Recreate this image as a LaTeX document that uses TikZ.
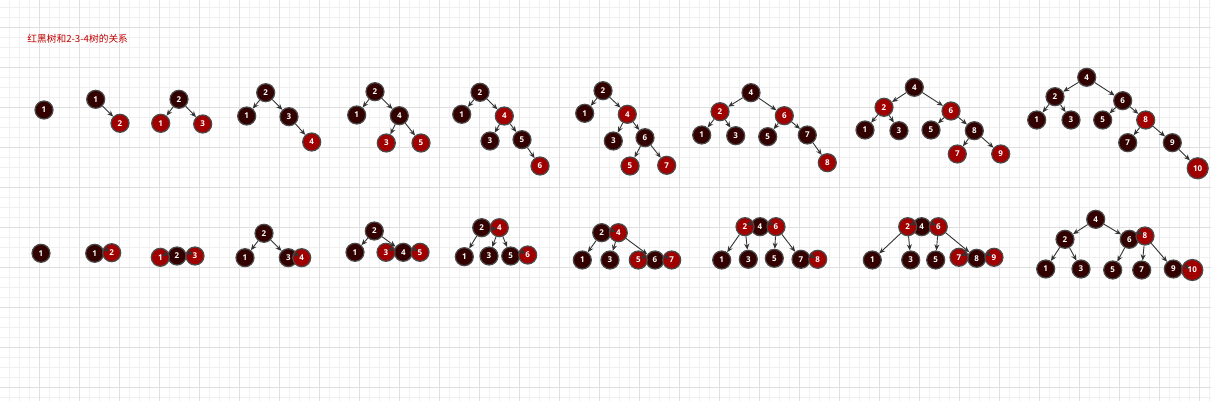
\documentclass[tikz,border=0pt]{standalone}
\usepackage{fontspec}
\setsansfont{Open Sans}
\newfontfamily\cjk{Noto Sans CJK SC}
\usetikzlibrary{arrows.meta, calc}
\definecolor{blkfill}{HTML}{330000}
\definecolor{redfill}{HTML}{A00000}
\definecolor{ringcol}{HTML}{4A4A4A}
\definecolor{arrcol}{HTML}{333333}
\definecolor{titlered}{HTML}{C00000}
\definecolor{gridminor}{HTML}{F0F0F0}
\definecolor{gridmajor}{HTML}{E0E0E0}

\begin{document}
\begin{tikzpicture}[x=1pt, y=-1pt, >={Stealth[length=6pt,width=5pt]}, ->, line width=0.9pt, draw=arrcol]
\tikzstyle{gridline}=[-, line width=1pt]
\tikzstyle{blk}=[circle, draw=ringcol, line width=1.2pt, fill=blkfill, text=white, minimum size=18pt, inner sep=0pt, font=\sffamily\bfseries\fontsize{8}{8}\selectfont]
\tikzstyle{rd}=[blk, fill=redfill]
\tikzstyle{big}=[minimum size=21pt]
\tikzset{tipin/.style={path picture={\draw[-{Stealth[length=5.5pt,width=5pt]}, arrcol, line width=0.9pt]
  ($(path picture bounding box.center)+(#1:10pt)$) -- ($(path picture bounding box.center)+(#1:2.5pt)$);}}}

\useasboundingbox (0,0) rectangle (1211,401);
\fill[white] (0,0) rectangle (1211,401);
\foreach \x in {9.5,19.5,...,1209.5} \draw[gridline, gridminor] (\x,0) -- (\x,401);
\foreach \y in {7.5,17.5,...,397.5} \draw[gridline, gridminor] (0,\y) -- (1211,\y);
\foreach \x in {39.5,79.5,...,1199.5} \draw[gridline, gridmajor] (\x,0) -- (\x,401);
\foreach \y in {27.5,67.5,...,387.5} \draw[gridline, gridmajor] (0,\y) -- (1211,\y);

\node[anchor=west, inner sep=0pt, text=titlered, font=\cjk\fontsize{9.7}{10}\selectfont] (title) at (27,38.5) {红黑树和2-3-4树的关系};

% red-black trees
\node[blk]   (T1-1) at (44,110)      {1};

\node[blk]   (T2-1) at (95.7,99.3)   {1};
\node[rd]    (T2-2) at (120,123.3)   {2};

\node[blk]   (T3-2) at (179,99.3)    {2};
\node[rd]    (T3-1) at (160.7,123.3) {1};
\node[rd]    (T3-3) at (202.7,124)   {3};

\node[blk]   (T4-2) at (265.7,92.7)  {2};
\node[blk]   (T4-1) at (246.7,116)   {1};
\node[blk]   (T4-3) at (289,116.7)   {3};
\node[rd]    (T4-4) at (311.7,142)   {4};

\node[blk]   (T5-2) at (375,91.7)    {2};
\node[blk]   (T5-1) at (356.7,115)   {1};
\node[blk]   (T5-4) at (399.3,115.7) {4};
\node[rd]    (T5-3) at (386.3,143)   {3};
\node[rd]    (T5-5) at (421,143)     {5};

\node[blk]   (T6-2) at (480,92.3)    {2};
\node[blk]   (T6-1) at (461.7,114.3) {1};
\node[rd]    (T6-4) at (504.3,116)   {4};
\node[blk]   (T6-3) at (490,141)     {3};
\node[blk]   (T6-5) at (522,139.7)   {5};
\node[rd]    (T6-6) at (540,166)     {6};

\node[blk]   (T7-2) at (603,90.7)    {2};
\node[blk]   (T7-1) at (584.7,113.3) {1};
\node[rd]    (T7-4) at (627.3,114.3) {4};
\node[blk]   (T7-3) at (613.3,141)   {3};
\node[blk]   (T7-6) at (645,137.7)   {6};
\node[rd]    (T7-5) at (630,166)     {5};
\node[rd]    (T7-7) at (666.7,165.3) {7};

\node[blk]   (T8-4) at (751,92.7)    {4};
\node[rd]    (T8-2) at (720,111.7)   {2};
\node[rd]    (T8-6) at (784.3,115.7) {6};
\node[blk]   (T8-1) at (701.7,135)   {1};
\node[blk]   (T8-3) at (735.7,135.7) {3};
\node[blk]   (T8-5) at (767.7,136.7) {5};
\node[blk]   (T8-7) at (807.3,135)   {7};
\node[rd]    (T8-8) at (827.3,162.7) {8};

\node[blk]   (T9-4) at (914.3,87.3)  {4};
\node[rd]    (T9-2) at (884,107.3)   {2};
\node[rd]    (T9-6) at (951,111)     {6};
\node[blk]   (T9-1) at (865,130)     {1};
\node[blk]   (T9-3) at (899,130.7)   {3};
\node[blk]   (T9-5) at (931,130)     {5};
\node[blk]   (T9-8) at (974.3,130.7) {8};
\node[rd]    (T9-7) at (957.3,154)   {7};
\node[rd]    (T9-9) at (1000.7,154)  {9};

\node[blk]   (T10-4) at (1086.7,77.3)  {4};
\node[blk]   (T10-2) at (1055,96.7)    {2};
\node[blk]   (T10-6) at (1122.7,100.7) {6};
\node[blk]   (T10-1) at (1036.7,120)   {1};
\node[blk]   (T10-3) at (1071,120)     {3};
\node[blk]   (T10-5) at (1102.7,120)   {5};
\node[rd]    (T10-8) at (1145.7,120)   {8};
\node[blk]   (T10-7) at (1127.7,142.7) {7};
\node[blk]   (T10-9) at (1172.3,142.7) {9};
\node[rd, big] (T10-10) at (1197.7,168.3) {10};

\path
(T2-1) edge (T2-2)
(T3-2) edge (T3-1)  (T3-2) edge (T3-3)
(T4-2) edge (T4-1)  (T4-2) edge (T4-3)  (T4-3) edge (T4-4)
(T5-2) edge (T5-1)  (T5-2) edge (T5-4)  (T5-4) edge (T5-3)  (T5-4) edge (T5-5)
(T6-2) edge (T6-1)  (T6-2) edge (T6-4)  (T6-4) edge (T6-3)  (T6-4) edge (T6-5)  (T6-5) edge (T6-6)
(T7-2) edge (T7-1)  (T7-2) edge (T7-4)  (T7-4) edge (T7-3)  (T7-4) edge (T7-6)  (T7-6) edge (T7-5)  (T7-6) edge (T7-7)
(T8-4) edge (T8-2)  (T8-4) edge (T8-6)  (T8-2) edge (T8-1)  (T8-2) edge (T8-3)  (T8-6) edge (T8-5)  (T8-6) edge (T8-7)  (T8-7) edge (T8-8)
(T9-4) edge (T9-2)  (T9-4) edge (T9-6)  (T9-2) edge (T9-1)  (T9-2) edge (T9-3)  (T9-6) edge (T9-5)  (T9-6) edge (T9-8)  (T9-8) edge (T9-7)  (T9-8) edge (T9-9)
(T10-4) edge (T10-2)  (T10-4) edge (T10-6)  (T10-2) edge (T10-1)  (T10-2) edge (T10-3)  (T10-6) edge (T10-5)  (T10-6) edge (T10-8)  (T10-8) edge (T10-7)  (T10-8) edge (T10-9)  (T10-9) edge (T10-10);

% 2-3-4 trees
\node[blk]   (B1-1) at (41,253.3)    {1};

\node[blk]   (B2-1) at (94.7,253.3)  {1};
\node[rd, tipin=150] (B2-2) at (111.7,252.7) {2};

\node[blk]   (B3-2) at (177,256)     {2};
\node[rd, tipin=30]  (B3-1) at (160.3,257.3) {1};
\node[rd, tipin=150] (B3-3) at (195,256)     {3};

\node[blk]   (B4-2) at (264,233.3)   {2};
\node[blk]   (B4-1) at (245,257.7)   {1};
\node[blk]   (B4-3) at (288.3,257.7) {3};
\node[rd, tipin=150] (B4-4) at (301.7,257.7) {4};

\node[blk]   (B5-2) at (374.3,231)   {2};
\node[blk]   (B5-1) at (355,252.3)   {1};
\node[blk]   (B5-4) at (403.3,252.3) {4};
\node[rd, tipin=30]  (B5-3) at (386,252.3)   {3};
\node[rd, tipin=150] (B5-5) at (420,252.3)   {5};

\node[blk]   (B6-2) at (481.7,227.7) {2};
\node[blk]   (B6-1) at (464.3,256.7) {1};
\node[blk]   (B6-3) at (489,256)     {3};
\node[blk]   (B6-5) at (510.7,256)   {5};
\node[rd, tipin=190] (B6-4) at (499.3,227.7) {4};
\node[rd, tipin=150] (B6-6) at (527.7,255)   {6};

\node[blk]   (B7-2) at (601.7,232.7) {2};
\node[blk]   (B7-1) at (582.3,260)   {1};
\node[blk]   (B7-3) at (610,260)     {3};
\node[blk]   (B7-6) at (655,260)     {6};
\node[rd, tipin=160] (B7-4) at (618.3,232.7) {4};
\node[rd, tipin=30]  (B7-5) at (638.3,260)   {5};
\node[rd, tipin=150] (B7-7) at (671.7,260)   {7};

\node[blk]   (B8-4) at (760,226.7)   {4};
\node[blk]   (B8-1) at (721.7,260)   {1};
\node[blk]   (B8-3) at (748.3,259.3) {3};
\node[blk]   (B8-5) at (774.3,258.3) {5};
\node[blk]   (B8-7) at (801,259.3)   {7};
\node[rd, tipin=30]  (B8-2) at (745,226.7)   {2};
\node[rd, tipin=150] (B8-6) at (776,226.7)   {6};
\node[rd, tipin=150] (B8-8) at (817.7,259.3) {8};

\node[blk]   (B9-4) at (921.7,226.7) {4};
\node[blk]   (B9-1) at (872.3,260)   {1};
\node[blk]   (B9-3) at (910.7,260)   {3};
\node[blk]   (B9-5) at (935.7,260)   {5};
\node[blk]   (B9-8) at (976.7,258.3) {8};
\node[rd, tipin=30]  (B9-2) at (907.7,226.7) {2};
\node[rd, tipin=150] (B9-6) at (938.3,226.7) {6};
\node[rd, tipin=30]  (B9-7) at (959,257.3)   {7};
\node[rd, tipin=150] (B9-9) at (994,257.3)   {9};

\node[blk]   (B10-4) at (1095.7,219.3) {4};
\node[blk]   (B10-2) at (1065,239.3)   {2};
\node[blk]   (B10-6) at (1129.3,239.3) {6};
\node[blk]   (B10-1) at (1045.7,269)   {1};
\node[blk]   (B10-3) at (1081,269)     {3};
\node[blk]   (B10-5) at (1112.7,270)   {5};
\node[blk]   (B10-7) at (1141.7,270)   {7};
\node[blk]   (B10-9) at (1173.3,269)   {9};
\node[rd, tipin=150] (B10-8) at (1145,236) {8};
\node[rd, big, tipin=150] (B10-10) at (1192.3,270) {10};

\path
(B4-2) edge (B4-1)  (B4-2) edge (B4-3)
(B5-2) edge (B5-1)  (B5-2) edge (B5-4)
(B6-2) edge (B6-1)  (B6-4) edge (B6-3)  (B6-4) edge (B6-5)
(B7-2) edge (B7-1)  (B7-4) edge (B7-3)  (B7-4) edge (B7-6)
(B8-2) edge (B8-1)  (B8-2) edge (B8-3)  (B8-6) edge (B8-5)  (B8-6) edge (B8-7)
(B9-2) edge (B9-1)  (B9-2) edge (B9-3)  (B9-6) edge (B9-5)  (B9-6) edge (B9-8)
(B10-4) edge (B10-2)  (B10-4) edge (B10-6)  (B10-2) edge (B10-1)  (B10-2) edge (B10-3)  (B10-6) edge (B10-5)  (B10-8) edge (B10-7)  (B10-8) edge (B10-9);

\end{tikzpicture}
\end{document}
